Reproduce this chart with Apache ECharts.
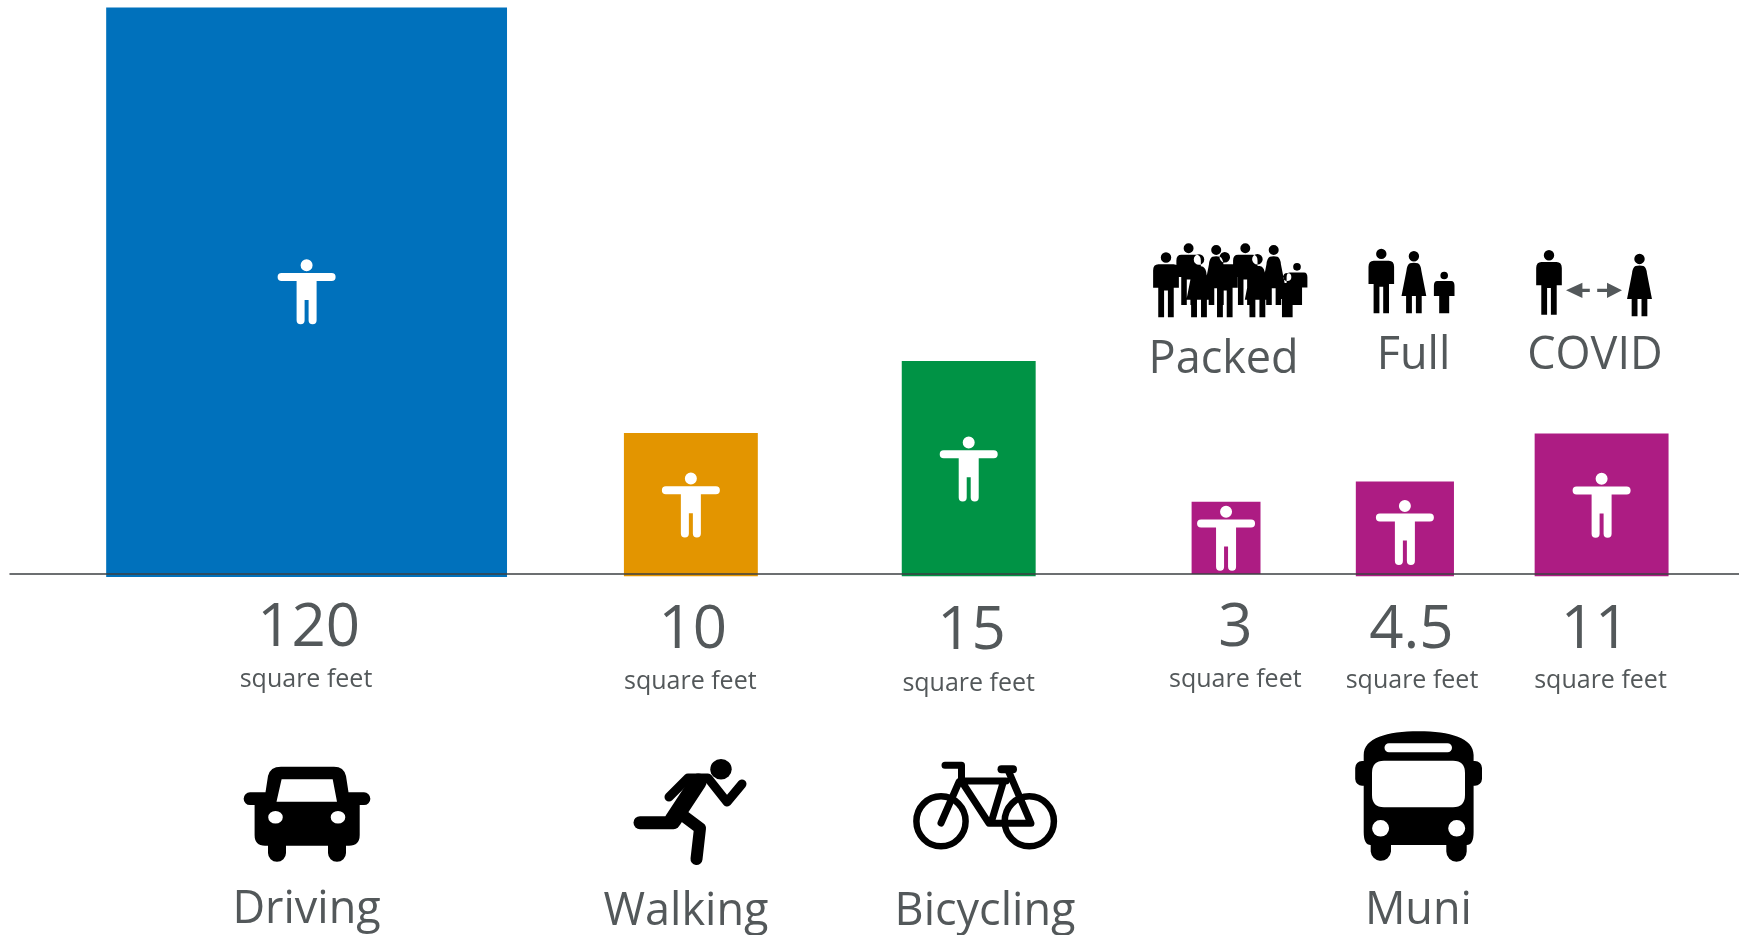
<!DOCTYPE html>
<html>
<head>
<meta charset="utf-8">
<title>Space per person by mode</title>
<script src="https://cdn.jsdelivr.net/npm/echarts@6/dist/echarts.min.js"></script>
<style>
  html, body { margin: 0; padding: 0; background: #fff; }
  #chart { width: 1739px; height: 935px; }
</style>
</head>
<body>
<div id="chart"></div>
<script>
// bars, one per mode / crowding level
const barNames = ['Driving', 'Walking', 'Bicycling', 'Packed', 'Full', 'COVID'];
const squareFeet = [120, 10, 15, 3, 4.5, 11];
// footprint drawn for each value, in feet
const footprintWidth = [9.19, 3.07, 3.07, 1.58, 2.25, 3.07];
const footprintDepth = [13.07, 3.287, 4.94, 1.66, 2.17, 3.275];
const modeLabels = ['Driving', 'Walking', 'Bicycling', 'Muni'];
const crowdLabels = ['Packed', 'Full', 'COVID'];

// layout
const BLUE = '#0071bc', ORANGE = '#e39500', GREEN = '#009345', MAGENTA = '#ad1c83';
const INK = '#53585a';
const FONT = '"Open Sans", "Noto Sans", sans-serif';
const barColors = [BLUE, ORANGE, GREEN, MAGENTA, MAGENTA, MAGENTA];
const barCenters = [6.8, 15.61, 21.98, 27.88, 31.98, 36.49]; // feet along the axis
const barBase = [-0.07, -0.05, -0.05, 0, -0.05, -0.05];
const personNudge = [0, 1, 1, 1, 4, 1];
const valueSpots = [[308.7, 645.7], [692.8, 648.3], [971.6, 649.3], [1235.3, 646], [1411.4, 648.3], [1595, 648]];
const unitSpots = [[306, 686.7], [690.3, 689], [968.7, 691], [1235.3, 686.7], [1412, 688.3], [1600.5, 688.3]];
const modeSpots = [[306.6, 922.7], [686, 925], [985, 925], [1418.4, 924]];
const crowdSpots = [[1223.6, 372.3], [1413.5, 368.3], [1594.9, 368.3]];

function ell(cx, cy, rx, ry) {
  return 'M' + (cx - rx) + ' ' + cy + 'A' + rx + ' ' + ry + ' 0 1 0 ' + (cx + rx) + ' ' + cy +
    'A' + rx + ' ' + ry + ' 0 1 0 ' + (cx - rx) + ' ' + cy + 'Z';
}

// outline given in its own units, moved to (cx, top) and scaled
function scalePath(cmds, cx, top, s) {
  return cmds.map(function (c) {
    return c[0] + c.slice(1).map(function (v, i) {
      return i % 2 === 0 ? cx + v * s : top + v * s;
    }).join(' ');
  }).join('');
}

const MAN = [['M', -7.5, 12], ['L', 7.5, 12], ['Q', 12.8, 12, 12.8, 18], ['L', 12.8, 35.3], ['L', 7.7, 35.3],
  ['L', 7.7, 64.6], ['L', 1.9, 64.6], ['L', 1.9, 38], ['L', -1.9, 38], ['L', -1.9, 64.6], ['L', -7.7, 64.6],
  ['L', -7.7, 35.3], ['L', -12.8, 35.3], ['L', -12.8, 18], ['Q', -12.8, 12, -7.5, 12], ['Z']];
const WOMAN = [['M', -4, 12.3], ['Q', 0, 11, 4, 12.3], ['Q', 7, 14, 7.5, 20], ['L', 12.4, 45], ['L', 7.8, 45],
  ['L', 7.8, 62.3], ['L', 2, 62.3], ['L', 2, 45], ['L', -2, 45], ['L', -2, 62.3], ['L', -7.8, 62.3],
  ['L', -7.8, 45], ['L', -12.4, 45], ['L', -7.5, 20], ['Q', -7, 14, -4, 12.3], ['Z']];
const CHILD = [['M', -7, 9.3], ['L', 7, 9.3], ['Q', 10.3, 9.3, 10.3, 14], ['L', 10.3, 24.3], ['L', 5, 24.3],
  ['L', 5, 41.6], ['L', -5, 41.6], ['L', -5, 24.3], ['L', -10.3, 24.3], ['L', -10.3, 14], ['Q', -10.3, 9.3, -7, 9.3], ['Z']];

function man(cx, top, h) {
  const s = h / 64.6;
  return ell(cx, top + 5.2 * s, 5.2 * s, 5.2 * s) + scalePath(MAN, cx, top, s);
}
function woman(cx, top, h) {
  const s = h / 62.3;
  return ell(cx, top + 5.2 * s, 5.2 * s, 5.2 * s) + scalePath(WOMAN, cx, top, s);
}
function child(cx, top, h) {
  const s = h / 41.6;
  return ell(cx, top + 3.8 * s, 3.8 * s, 3.8 * s) + scalePath(CHILD, cx, top, s);
}

// white figure inside the bars, origin at top of head
const personPath = ell(0, 6, 6, 6) +
  'M-25 13.6H25A4 4 0 0 1 25 21.6H10V61A4 4 0 0 1 2 61V40.6H-2V61A4 4 0 0 1 -10 61V21.6H-25A4 4 0 0 1 -25 13.6Z';

const solid = function (d, fill) { return { d: d, fill: fill || '#000' }; };
const line = function (d, w) { return { d: d, stroke: '#000', width: w }; };

const icons = [
  // car
  solid('M281 766.7H334Q344 766.7 346 776L348.5 792.3H364A6.3 6.3 0 0 1 364 805H359.7V835Q359.7 845.7 349 845.7H346V853A9 8.7 0 0 1 328 853V845.7H286V853A9 8.7 0 0 1 268 853V845.7H265Q254.6 845.7 254.6 835V805H250A6.3 6.3 0 0 1 250 792.3H265.5L268 776Q270 766.7 281 766.7Z'),
  solid('M281.6 779.3H332.7L337 801.7H276.5Z' + ell(275.5, 817.3, 7.3, 6.3) + ell(338, 817.3, 7.3, 6.3), '#fff'),
  // runner
  solid(ell(721, 769.3, 10.7, 10.3)),
  line('M669 797L688 778H708L727 802L742 784', 9),
  line('M698 782L673 820', 17),
  line('M673.5 822.7H640', 13),
  line('M685 817L700 828.3L696.5 859', 12),
  // bicycle
  line(ell(941, 821.3, 24.6, 25), 6.5),
  line(ell(1029.3, 821.3, 24.6, 25), 6.5),
  line('M945 765.3H961.5V781M962 781H1006M959 782L941 823M962 782L989 823.3H1031L1008 770M1003 783L991 823', 7),
  line('M1001.5 769.3H1013', 8),
  // bus
  solid('M1418.6 731.3C1450 731.3 1473.6 738 1473.6 755V761H1475A7 7 0 0 1 1482 768V779A7 7 0 0 1 1475 785.7H1473.6V832Q1473.6 845 1466.7 845V851.5A10.2 10.2 0 0 1 1446.3 851.5V845H1391V851.5A10.2 10.2 0 0 1 1370.7 851.5V845Q1363.7 845 1363.7 832V785.7H1362A7 7 0 0 1 1355.2 779V768A7 7 0 0 1 1362 761H1363.7V755C1363.7 738 1387 731.3 1418.6 731.3Z'),
  solid('M1384 760.7H1453Q1465 760.7 1465 773V795Q1465 807.3 1453 807.3H1384Q1372 807.3 1372 795V773Q1372 760.7 1384 760.7Z' +
    'M1389 743.3H1447.5A4.5 4.5 0 0 1 1447.5 752.3H1389A4.5 4.5 0 0 1 1389 743.3Z' +
    ell(1380.6, 828.3, 8.5, 8.3) + ell(1456.7, 828.3, 8.5, 8.3), '#fff'),
  // packed
  solid(man(1166, 252.3, 65) + man(1188.6, 243.3, 61.7) + woman(1199, 254.3, 63) + woman(1216.2, 245, 60) +
    man(1224.8, 252, 65.3) + man(1245.3, 243.3, 61.7) + woman(1257.4, 254, 63.3) + woman(1273.7, 245, 60) +
    child(1287.3, 273, 44.3) + child(1297, 263, 42)),
  // full
  solid(man(1381.3, 248.7, 64.6) + woman(1413.9, 251, 62.3) + child(1444.2, 271.7, 41.6)),
  // covid
  solid(man(1549, 250, 64.7) + woman(1639.5, 253.7, 62.6)),
  solid('M1566 290.3L1582.4 282.7V288.7H1589.8V292H1582.4V298Z' + 'M1622 290.3L1607 282.7V288.7H1597.2V292H1607V298Z', INK)
];

function textEl(str, spot, size, lift) {
  return {
    type: 'text',
    style: {
      text: str, x: spot[0], y: spot[1] - lift, fill: INK,
      font: size + 'px ' + FONT, align: 'center', verticalAlign: 'middle'
    }
  };
}

function renderBar(params, api) {
  const i = params.dataIndex;
  const mid = api.value(0), w = api.value(1), d = api.value(2), base = api.value(3);
  const a = api.coord([mid - w / 2, base + d]);
  const b = api.coord([mid + w / 2, base]);
  return {
    type: 'group',
    children: [
      { type: 'rect', shape: { x: a[0], y: a[1], width: b[0] - a[0], height: b[1] - a[1] }, style: { fill: barColors[i] } },
      {
        type: 'path',
        x: (a[0] + b[0]) / 2,
        y: (a[1] + b[1]) / 2 - 33 + personNudge[i],
        shape: { pathData: personPath },
        style: { fill: '#fff' }
      }
    ]
  };
}

function renderDecor() {
  const children = icons.map(function (ic) {
    return {
      type: 'path',
      shape: { pathData: ic.d },
      style: ic.stroke
        ? { fill: 'none', stroke: ic.stroke, lineWidth: ic.width, lineCap: 'round', lineJoin: 'round' }
        : { fill: ic.fill }
    };
  });
  squareFeet.forEach(function (v, i) {
    children.push(textEl(String(v), valueSpots[i], 60, 17));
    children.push(textEl('square feet', unitSpots[i], 25, 7));
  });
  modeLabels.forEach(function (t, i) { children.push(textEl(t, modeSpots[i], 45, 12.5)); });
  crowdLabels.forEach(function (t, i) { children.push(textEl(t, crowdSpots[i], 45, 12.5)); });
  return { type: 'group', children: children };
}

const chart = echarts.init(document.getElementById('chart'));
chart.setOption({
  animation: false,
  backgroundColor: '#fff',
  grid: { left: 10, right: 0, top: 7.5, bottom: 361 },
  xAxis: {
    type: 'value', min: 0, max: 39.64, z: 5,
    axisLine: { show: true, onZero: false, lineStyle: { color: '#3c4043', width: 1.5 } },
    axisTick: { show: false }, axisLabel: { show: false }, splitLine: { show: false }
  },
  yAxis: { type: 'value', min: 0, max: 13, show: false, splitLine: { show: false } },
  series: [
    {
      type: 'custom',
      name: 'Space per person',
      renderItem: renderBar,
      silent: true,
      encode: { x: 0, y: 2 },
      data: barNames.map(function (name, i) {
        return { name: name, value: [barCenters[i], footprintWidth[i], footprintDepth[i], barBase[i]] };
      })
    },
    {
      type: 'custom',
      name: 'Labels',
      coordinateSystem: 'none',
      renderItem: renderDecor,
      silent: true,
      data: [0]
    }
  ]
});
</script>
</body>
</html>
